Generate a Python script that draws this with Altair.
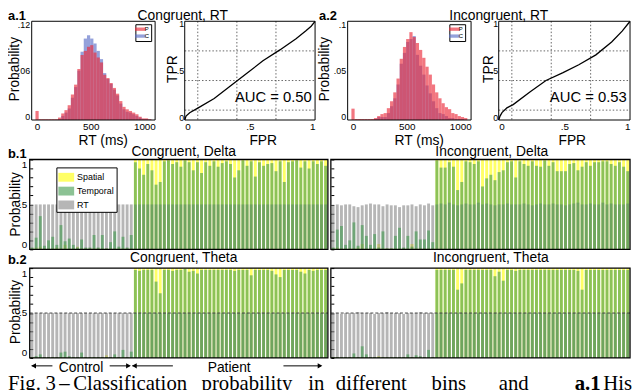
import altair as alt
import pandas as pd

FONT = "Liberation Sans"
SERIF = "Liberation Serif"
W, H = 632, 382

# ---------------- data ----------------
# RT histogram bins (ms)
rt_bin_lo = [-15, 15, 45, 75, 105, 135, 165, 195, 225, 255, 285, 315, 345, 375, 405,
             435, 465, 495, 525, 555, 585, 615, 645, 675, 705, 735, 765, 795, 825,
             855, 885, 915, 945, 975, 1005, 1035]
rt_bin_hi = [15, 45, 75, 105, 135, 165, 195, 225, 255, 285, 315, 345, 375, 405, 435,
             465, 495, 525, 555, 585, 615, 645, 675, 705, 735, 765, 795, 825, 855,
             885, 915, 945, 975, 1005, 1035, 1065]
cong_patient = [0.011, 0.001, 0.001, 0.001, 0.001, 0.001, 0.001, 0.003, 0.008, 0.012,
                0.018, 0.031, 0.043, 0.062, 0.079, 0.084, 0.089, 0.091, 0.082, 0.076,
                0.070, 0.055, 0.051, 0.045, 0.039, 0.032, 0.023, 0.016, 0.013, 0.011,
                0.009, 0.007, 0.004, 0.002, 0.002, 0.001]
cong_control = [0, 0, 0, 0, 0, 0, 0, 0.001, 0.005, 0.009,
                0.014, 0.027, 0.040, 0.060, 0.083, 0.099, 0.103, 0.099, 0.093, 0.084,
                0.074, 0.057, 0.050, 0.044, 0.037, 0.030, 0.020, 0.013, 0.010, 0.009,
                0.007, 0.005, 0.003, 0.001, 0.001, 0.0005]
incong_patient = [0.0115, 0.001, 0.001, 0.001, 0.001, 0.001, 0.001, 0.002, 0.004, 0.006,
                  0.007, 0.012, 0.019, 0.028, 0.042, 0.062, 0.074, 0.082, 0.089, 0.084,
                  0.078, 0.071, 0.063, 0.054, 0.046, 0.036, 0.028, 0.022, 0.017, 0.013,
                  0.011, 0.007, 0.006, 0.004, 0.003, 0.002]
incong_control = [0, 0, 0, 0, 0, 0, 0, 0.001, 0.003, 0.003,
                  0.003, 0.007, 0.014, 0.022, 0.036, 0.057, 0.068, 0.079, 0.082, 0.085,
                  0.066, 0.055, 0.046, 0.035, 0.027, 0.019, 0.012, 0.007, 0.006, 0.004,
                  0.002, 0.002, 0.001, 0.001, 0.001, 0.0]

# ROC curves
roc1_fpr = [0, 0.01, 0.038, 0.1, 0.226, 0.35, 0.477, 0.6, 0.73, 0.854, 0.93, 0.97, 1.0]
roc1_tpr = [0, 0.04, 0.073, 0.12, 0.217, 0.345, 0.473, 0.6, 0.71, 0.824, 0.904, 0.95, 1.0]
roc2_fpr = [0, 0.01, 0.025, 0.0625, 0.11, 0.24, 0.36, 0.49, 0.61, 0.74, 0.86, 0.94, 0.985, 1.0]
roc2_tpr = [0, 0.04, 0.075, 0.123, 0.156, 0.286, 0.40, 0.48, 0.56, 0.66, 0.79, 0.90, 0.975, 1.0]
roc_grid = [0.1, 0.4, 0.7]

# per-subject classification probabilities (25 controls, 47 patients)
ctrl_rt_half = [0.50, 0.50, 0.50, 0.50, 0.50, 0.50, 0.50, 0.50, 0.50, 0.50,
                0.50, 0.50, 0.50, 0.50, 0.50, 0.50, 0.50, 0.50, 0.50, 0.50,
                0.50, 0.50, 0.50, 0.50, 0.50]
pat_rt_half = [0.50, 0.50, 0.50, 0.50, 0.50, 0.50, 0.50, 0.50, 0.50, 0.50,
               0.50, 0.50, 0.50, 0.50, 0.50, 0.50, 0.50, 0.50, 0.50, 0.50,
               0.50, 0.50, 0.50, 0.50, 0.50, 0.50, 0.50, 0.50, 0.50, 0.50,
               0.50, 0.50, 0.50, 0.50, 0.50, 0.50, 0.50, 0.50, 0.50, 0.50,
               0.50, 0.50, 0.50, 0.50, 0.50, 0.50, 0.50]
pat_spatial_one = [1.0, 1.0, 1.0, 1.0, 1.0, 1.0, 1.0, 1.0, 1.0, 1.0,
                   1.0, 1.0, 1.0, 1.0, 1.0, 1.0, 1.0, 1.0, 1.0, 1.0,
                   1.0, 1.0, 1.0, 1.0, 1.0, 1.0, 1.0, 1.0, 1.0, 1.0,
                   1.0, 1.0, 1.0, 1.0, 1.0, 1.0, 1.0, 1.0, 1.0, 1.0,
                   1.0, 1.0, 1.0, 1.0, 1.0, 1.0, 1.0]

# b.1 Congruent, Delta
b1L_ctrl_temporal = [0.02, 0.13, 0.37, 0.04, 0.10, 0.14, 0.05, 0.27, 0.09, 0.12,
                     0.05, 0.02, 0.11, 0.02, 0.02, 0.16, 0.02, 0.16, 0.01, 0.08,
                     0.20, 0.03, 0.14, 0.02, 0.16]
b1L_ctrl_spatial = [0.01, 0.02, 0.03, 0.01, 0.01, 0.01, 0.02, 0.01, 0.05, 0.01,
                    0.01, 0.03, 0.01, 0.01, 0.01, 0.01, 0.01, 0.01, 0.01, 0.01,
                    0.01, 0.01, 0.01, 0.01, 0.01]
b1L_pat_temporal = [0.97, 0.90, 0.83, 0.95, 0.88, 0.72, 0.75, 0.98, 0.99, 0.95,
                    0.97, 0.92, 0.99, 0.97, 0.88, 0.97, 0.85, 0.97, 0.93, 0.98,
                    0.92, 0.96, 0.98, 0.95, 0.80, 0.88, 0.99, 0.93, 0.98, 0.81,
                    0.97, 0.93, 0.95, 0.96, 0.87, 0.98, 0.75, 0.97, 0.98, 0.99,
                    0.91, 0.98, 0.90, 0.98, 0.95, 0.98, 0.93]
# b.1 Incongruent, Delta
b1R_ctrl_rt = [0.49, 0.50, 0.49, 0.50, 0.50, 0.48, 0.47, 0.49, 0.50, 0.51,
               0.50, 0.50, 0.48, 0.50, 0.49, 0.49, 0.47, 0.49, 0.49, 0.50,
               0.48, 0.50, 0.49, 0.51, 0.49]
b1R_ctrl_temporal = [0.02, 0.22, 0.26, 0.05, 0.10, 0.30, 0.04, 0.27, 0.15, 0.05,
                     0.17, 0.02, 0.20, 0.01, 0.01, 0.15, 0.24, 0.02, 0.15, 0.03,
                     0.20, 0.11, 0.11, 0.21, 0.08]
b1R_ctrl_spatial = [0.01, 0.02, 0.01, 0.01, 0.01, 0.01, 0.02, 0.06, 0.01, 0.01,
                    0.01, 0.06, 0.01, 0.01, 0.01, 0.01, 0.01, 0.01, 0.01, 0.06,
                    0.01, 0.01, 0.01, 0.01, 0.01]
b1R_pat_temporal = [0.99, 0.91, 0.91, 0.97, 0.92, 0.66, 0.75, 0.98, 0.97, 0.95,
                    0.98, 0.70, 0.79, 0.83, 0.77, 0.86, 0.88, 0.97, 0.98, 0.80,
                    0.98, 0.95, 0.93, 0.98, 0.93, 0.92, 0.99, 0.93, 0.97, 0.87,
                    0.87, 0.87, 0.95, 0.96, 0.88, 0.92, 0.97, 0.93, 0.97, 0.97,
                    0.98, 0.98, 0.95, 0.93, 0.97, 0.92, 0.87]
b1R_pat_rt = [0.50, 0.51, 0.50, 0.52, 0.50, 0.49, 0.50, 0.51, 0.50, 0.50,
              0.52, 0.50, 0.51, 0.50, 0.49, 0.50, 0.50, 0.51, 0.50, 0.50,
              0.50, 0.51, 0.50, 0.49, 0.50, 0.51, 0.50, 0.50, 0.51, 0.50,
              0.50, 0.49, 0.50, 0.51, 0.52, 0.50, 0.50, 0.51, 0.50, 0.50,
              0.52, 0.50, 0.51, 0.50, 0.50, 0.50, 0.51]
# b.2 Congruent, Theta
b2L_ctrl_temporal = [0.01, 0.02, 0.04, 0.01, 0.01, 0.01, 0.01, 0.06, 0.07, 0.02,
                     0.01, 0.01, 0.06, 0.01, 0.01, 0.01, 0.01, 0.01, 0.01, 0.01,
                     0.04, 0.01, 0.09, 0.01, 0.07]
b2L_ctrl_spatial = [0.01, 0.01, 0.01, 0.01, 0.01, 0.01, 0.01, 0.01, 0.01, 0.01,
                    0.01, 0.01, 0.01, 0.01, 0.01, 0.01, 0.01, 0.01, 0.03, 0.01,
                    0.01, 0.01, 0.01, 0.01, 0.01]
b2L_pat_temporal = [0.98, 0.97, 0.98, 0.98, 0.98, 0.85, 0.72, 0.98, 0.98, 0.97,
                    0.98, 0.98, 0.99, 0.96, 0.97, 0.94, 0.98, 0.98, 0.98, 0.98,
                    0.98, 0.98, 0.98, 0.98, 0.97, 0.98, 0.98, 0.98, 0.92, 0.98,
                    0.98, 0.98, 0.98, 0.97, 0.93, 0.90, 0.98, 0.98, 0.98, 0.98,
                    0.96, 0.94, 0.98, 0.97, 0.98, 0.98, 0.98]
# b.2 Incongruent, Theta
b2R_ctrl_rt = [0.50, 0.50, 0.49, 0.50, 0.50, 0.50, 0.51, 0.50, 0.50, 0.50,
               0.49, 0.50, 0.50, 0.51, 0.50, 0.50, 0.50, 0.49, 0.50, 0.50,
               0.50, 0.51, 0.50, 0.50, 0.50]
b2R_ctrl_temporal = [0.01, 0.01, 0.01, 0.01, 0.01, 0.05, 0.01, 0.13, 0.04, 0.01,
                     0.01, 0.01, 0.01, 0.01, 0.01, 0.01, 0.01, 0.01, 0.04, 0.01,
                     0.03, 0.02, 0.01, 0.09, 0.01]
b2R_ctrl_spatial = [0.01, 0.01, 0.01, 0.01, 0.01, 0.01, 0.01, 0.01, 0.01, 0.01,
                    0.01, 0.02, 0.01, 0.01, 0.01, 0.01, 0.01, 0.01, 0.01, 0.01,
                    0.01, 0.01, 0.01, 0.01, 0.01]
b2R_pat_temporal = [0.98, 0.98, 0.98, 0.98, 0.98, 0.76, 0.83, 0.98, 0.98, 0.98,
                    0.98, 0.98, 0.98, 0.98, 0.91, 0.96, 0.86, 0.98, 0.98, 0.97,
                    0.98, 0.98, 0.98, 0.98, 0.98, 0.98, 0.98, 0.98, 0.98, 0.98,
                    0.98, 0.98, 0.98, 0.98, 0.97, 0.76, 0.98, 0.98, 0.98, 0.98,
                    0.98, 0.98, 0.98, 0.98, 0.98, 0.98, 0.98]

prob_ticks = [0, 0.1, 0.2, 0.3, 0.4, 0.5, 0.6, 0.7, 0.8, 0.9, 1]

# ---------------- styling / layout ----------------
RED, BLUE = "#eb2d3c", "#5a6ec8"
YELLOW, GREEN, GRAY = "#ffff00", "#3f9a4c", "#858585"
LBL = "datum.value == 0 ? '0' : replace(toString(datum.value), '0.', '.')"
LBL_B = "datum.value == 0 ? '0' : datum.value == 0.5 ? '.5' : datum.value == 1 ? '1' : ''"

TOP_Y = (111, 11)
B1_Y = (242, 151)
B2_Y = (352, 261)
HIST1_X, ROC1_X = (24, 149), (179, 311)
HIST2_X, ROC2_X = (344, 469), (497, 630)
BL_X, BR_X = (22, 324), (327, 630)


def frame(xr, yr, width=1.0):
    return alt.Chart(pd.DataFrame({"k": [0]})).mark_rect(
        fillOpacity=0, stroke="black", strokeWidth=width
    ).encode(x=alt.value(xr[0]), x2=alt.value(xr[1]), y=alt.value(yr[1]), y2=alt.value(yr[0]))


def hist_panel(P, C, ymax, yvals, xr, yr, legend_x, rt_title_x, prob_title_x):
    rows = []
    for grp, vals in (("C", C), ("P", P)):
        for lo, hi, v in zip(rt_bin_lo, rt_bin_hi, vals):
            rows.append({"grp": grp, "lo": lo, "hi": hi, "p": v, "base": 0})
    df = pd.DataFrame(rows)
    xax = alt.Axis(orient="bottom", offset=yr[0] - H, values=[0, 500, 1000], ticks=False,
                   domain=False, grid=False, labelPadding=2, labelExpr=LBL,
                   title="RT (ms)", titleX=rt_title_x, titleY=25, titleBaseline="alphabetic")
    yax = alt.Axis(orient="left", offset=-xr[0], values=yvals, ticks=False, domain=False,
                   grid=False, labelPadding=2, labelFlush=True, labelFlushOffset=1,
                   labelFontSize=9, labelExpr=LBL,
                   title="Probability", titleX=prob_title_x - xr[0], titleY=59, titleAngle=270,
                   titleBaseline="bottom")
    bars = alt.Chart(df).mark_rect(opacity=0.65).encode(
        x=alt.X("lo:Q", scale=alt.Scale(domain=[-50, 1100], range=list(xr), nice=False, zero=False), axis=xax),
        x2="hi:Q",
        y=alt.Y("p:Q", scale=alt.Scale(domain=[0, ymax], range=list(yr), nice=False), axis=yax),
        y2="base:Q",
        color=alt.Color("grp:N", scale=alt.Scale(domain=["P", "C"], range=[RED, BLUE]),
                        legend=alt.Legend(orient="none", legendX=legend_x, legendY=14, title=None,
                                          symbolType="M-1.6,-0.5H1.6V0.5H-1.6Z", symbolSize=45,
                                          symbolStrokeWidth=0, labelFontSize=6, labelOffset=1,
                                          padding=1.5, rowPadding=0, strokeColor="black",
                                          fillColor="white")),
    )
    return alt.layer(bars, frame(xr, yr))


def roc_panel(fpr, tpr, auc, xr, yr, tpr_title_x, fpr_title_x):
    xs = alt.Scale(domain=[0, 1], range=list(xr), nice=False)
    ys = alt.Scale(domain=[0, 1], range=list(yr), nice=False)
    xax = alt.Axis(orient="bottom", offset=yr[0] - H, values=[0, 0.5, 1], ticks=False, domain=False,
                   grid=False, labelPadding=2, labelFlush=True, labelExpr=LBL, title="FPR",
                   titleX=fpr_title_x, titleY=25, titleBaseline="alphabetic")
    yax = alt.Axis(orient="left", offset=-xr[0], values=[0, 0.5, 1], ticks=False, domain=False,
                   grid=False, labelPadding=1, labelFlush=True, labelFlushOffset=2,
                   labelFontSize=9, labelExpr=LBL,
                   title="TPR", titleX=tpr_title_x - xr[0], titleY=59, titleAngle=270,
                   titleBaseline="bottom")
    gdf = pd.DataFrame({"g": roc_grid})
    gx = alt.Chart(gdf).mark_rule(color="#555", strokeDash=[1.5, 2], strokeWidth=0.9).encode(
        x=alt.X("g:Q", scale=xs, axis=xax), y=alt.value(yr[1]), y2=alt.value(yr[0]))
    gy = alt.Chart(gdf).mark_rule(color="#555", strokeDash=[1.5, 2], strokeWidth=0.9).encode(
        y=alt.Y("g:Q", scale=ys, axis=yax), x=alt.value(xr[0]), x2=alt.value(xr[1]))
    ldf = pd.DataFrame({"fpr": fpr, "tpr": tpr, "i": list(range(len(fpr)))})
    line = alt.Chart(ldf).mark_line(color="black", strokeWidth=1.3).encode(
        x=alt.X("fpr:Q", scale=xs, axis=xax), y=alt.Y("tpr:Q", scale=ys, axis=yax), order="i:Q")
    tdf = pd.DataFrame({"x": [0.975], "y": [0.18], "t": [auc]})
    txt = alt.Chart(tdf).mark_text(align="right", baseline="alphabetic", fontSize=15, font=FONT).encode(
        x=alt.X("x:Q", scale=xs, axis=xax), y=alt.Y("y:Q", scale=ys, axis=yax), text="t:N")
    return alt.layer(gx, gy, line, txt, frame(xr, yr))


def bar_panel(spatial, rt, temporal, xr, yr, left, title_y, legend, dashed):
    rows = []
    for series, vals in (("Spatial", spatial), ("RT", rt), ("Temporal", temporal)):
        for i, v in enumerate(vals):
            rows.append({"idx": i, "series": series, "v": v})
    df = pd.DataFrame(rows)
    xs = alt.Scale(range=list(xr), paddingInner=0.3, paddingOuter=0.2)
    ys = alt.Scale(domain=[0, 1], range=list(yr), nice=False)
    ax_kw = dict(orient="left", offset=-(xr[0] + 3), values=prob_ticks, tickSize=3,
                 tickColor="black", tickWidth=1, domain=False, grid=False)
    if left:
        ax_kw.update(labelPadding=3, labelFlush=True, labelExpr=LBL_B, title="Probability",
                     titleX=15 - (xr[0] + 3), titleY=title_y, titleAngle=270, titleBaseline="bottom")
    else:
        ax_kw.update(labels=False, title="")
    yax = alt.Axis(**ax_kw)
    bars = alt.Chart(df).mark_bar(opacity=0.6).encode(
        x=alt.X("idx:O", scale=xs, axis=None),
        y=alt.Y("v:Q", scale=ys, axis=yax, stack=None),
        color=alt.Color("series:N", scale=alt.Scale(domain=["Spatial", "Temporal", "RT"],
                                                    range=[YELLOW, GREEN, GRAY]), legend=legend),
    )
    layers = [bars]
    if dashed:
        layers.append(alt.Chart(pd.DataFrame({"h": [0.5]})).mark_rule(
            color="#444", strokeDash=[3, 2], strokeWidth=1).encode(
            y=alt.Y("h:Q", scale=ys, axis=yax), x=alt.value(xr[0]), x2=alt.value(xr[1])))
    layers.append(frame(xr, yr, 1.3))
    return alt.layer(*layers)


bar_legend = alt.Legend(orient="none", legendX=49, legendY=159, title=None,
                        symbolType="M-1,-0.56H1V0.56H-1Z", symbolSize=256, symbolStrokeWidth=0,
                        labelFontSize=9, labelOffset=3, padding=2, rowPadding=1,
                        strokeColor="black", fillColor="white")

panels = [
    hist_panel(cong_patient, cong_control, 0.12, [0, 0.06, 0.12], HIST1_X, TOP_Y, 129, 96, 14),
    roc_panel(roc1_fpr, roc1_tpr, "AUC = 0.50", ROC1_X, TOP_Y, 174, 258),
    hist_panel(incong_patient, incong_control, 0.1, [0, 0.05, 0.1], HIST2_X, TOP_Y, 447, 416, 328),
    roc_panel(roc2_fpr, roc2_tpr, "AUC = 0.53", ROC2_X, TOP_Y, 494, 571),
    bar_panel(b1L_ctrl_spatial + pat_spatial_one, ctrl_rt_half + pat_rt_half,
              b1L_ctrl_temporal + b1L_pat_temporal, BL_X, B1_Y, True, 196, bar_legend, False),
    bar_panel(b1R_ctrl_spatial + pat_spatial_one, b1R_ctrl_rt + b1R_pat_rt,
              b1R_ctrl_temporal + b1R_pat_temporal, BR_X, B1_Y, False, 196, None, False),
    bar_panel(b2L_ctrl_spatial + pat_spatial_one, ctrl_rt_half + pat_rt_half,
              b2L_ctrl_temporal + b2L_pat_temporal, BL_X, B2_Y, True, 305, None, True),
    bar_panel(b2R_ctrl_spatial + pat_spatial_one, b2R_ctrl_rt + pat_rt_half,
              b2R_ctrl_temporal + b2R_pat_temporal, BR_X, B2_Y, False, 305, None, True),
]

# ---------------- annotations ----------------
titles = pd.DataFrame({
    "t": ["Congruent, RT", "Incongruent, RT", "Congruent, Delta", "Incongruent, Delta",
          "Congruent, Theta", "Incongruent, Theta"],
    "x": [177, 497, 178, 490, 178, 489],
    "y": [10, 10, 147, 147, 255, 255],
})
tags = pd.DataFrame({"t": ["a.1", "a.2", "b.1", "b.2"], "x": [0, 315, 0, 0], "y": [10, 10, 149, 257]})
groups = pd.DataFrame({"t": ["Control", "Patient"], "x": [74, 224], "y": [366, 366]})
arrow_lines = pd.DataFrame({"x0": [24, 103, 126, 279], "x1": [45, 123, 167, 317], "y": [360, 360, 360, 360]})
arrow_heads = pd.DataFrame({"x": [26, 122, 128, 316], "y": [360, 360, 360, 360],
                            "s": ["triangle-left", "triangle-right", "triangle-left", "triangle-right"]})
caption = pd.DataFrame({
    "t": ["Fig.", "3", "–", "Classification", "probability", "in", "different", "bins", "and", "Hist"],
    "x": [0, 38, 52, 66, 196, 304, 332, 429, 497, 603],
    "y": [384, 384, 384, 384, 384, 384, 384, 384, 384, 384],
})
caption_bold = pd.DataFrame({"t": ["a.1"], "x": [574], "y": [384]})


def txt_layer(df, **kw):
    return alt.Chart(df).mark_text(**kw).encode(
        x=alt.X("x:Q", scale=None, axis=None), y=alt.Y("y:Q", scale=None, axis=None), text="t:N")


annos = [
    txt_layer(titles, font=FONT, fontSize=14, align="center", baseline="alphabetic"),
    txt_layer(tags, font=FONT, fontSize=13, fontWeight="bold", align="left", baseline="alphabetic"),
    txt_layer(groups, font=FONT, fontSize=14, align="center", baseline="alphabetic"),
    alt.Chart(arrow_lines).mark_rule(color="black", strokeWidth=1).encode(
        x=alt.X("x0:Q", scale=None, axis=None), x2="x1:Q", y=alt.Y("y:Q", scale=None, axis=None)),
    alt.Chart(arrow_heads).mark_point(filled=True, color="black", size=30, opacity=1).encode(
        x=alt.X("x:Q", scale=None, axis=None), y=alt.Y("y:Q", scale=None, axis=None),
        shape=alt.Shape("s:N", scale=None)),
    txt_layer(caption, font=SERIF, fontSize=21, align="left", baseline="alphabetic"),
    txt_layer(caption_bold, font=SERIF, fontSize=21, fontWeight="bold", align="left", baseline="alphabetic"),
]

chart = alt.layer(*panels, *annos).resolve_scale(
    x="independent", y="independent", color="independent"
).resolve_axis(x="independent", y="independent").resolve_legend(color="independent").properties(
    width=W, height=H, autosize=alt.AutoSizeParams(type="none"), padding=0
).configure_view(stroke=None).configure_axis(
    labelFont=FONT, titleFont=FONT, labelFontSize=10, titleFontSize=14, titleFontWeight="normal",
    labelColor="black", titleColor="black"
).configure_legend(labelFont=FONT, labelColor="black")

chart.save("out.html", embed_options={"renderer": "svg", "actions": False})
